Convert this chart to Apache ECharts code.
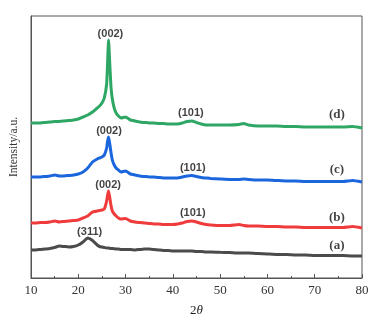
<!DOCTYPE html>
<html>
<head>
<meta charset="utf-8">
<script src="https://cdn.jsdelivr.net/npm/echarts@6/dist/echarts.min.js"></script>
<style>
  html, body { margin: 0; padding: 0; background: #fff; }
  #chart { width: 378px; height: 322px; }
</style>
</head>
<body>
<div id="chart"></div>
<script>
// XRD patterns, 2θ in degrees; intensities in arbitrary units (curves stacked with offsets)
const twoTheta = [10,11,12,13,14,15,16,17,18,19,20,21,22,23,24,24.5,25,25.5,26,26.2,26.4,26.6,26.9,27.2,27.6,28,28.5,29,30,31,32,33,34,35,36,37,38,39,40,41,42,43,44,45,46,47,48,50,52,54,55,56,58,60,62,64,66,68,70,72,74,76,78,80];

const sampleA = [28,28,28.5,29,29.5,30.5,32,31.5,31,31.5,33,36,40,37.5,33,31.5,31,30.5,30,30,30,29.8,29.5,29.5,29.3,29,29,28.5,28.5,28.5,28,28.5,29,29,28.5,28,27.5,27.5,27,27,27,27,27,26.5,26.5,26,26,25.7,25.5,25,25,25,24.5,24,23.5,23.5,23,23,22.5,22.5,22.5,22.5,22,22];

const sampleB = [55,55,55.5,55.5,56,57,56,56.5,57,57.5,58,60,62,66,67,67.5,68,69,77,83,87,82,73,67,64,62,60,59,59.5,57,56,55.5,55,54.5,54,54,53.5,53.5,53.5,54,55,56.5,57,56,54.5,53.5,53,52.5,52.5,53.5,52.5,52,52,51.5,51.5,51,51,50.5,50.5,50.5,50.5,50.5,51.5,50];

const sampleC = [101,101,101,101.5,102,103,102,102,102.5,103,104,106,110,116,119,120,121,123,130,137,141,136,126,118,113,110,108,106,107,104,103,102,101.5,101,101,100.5,100,100,100,100,101,102,102.5,101.5,100.5,100,99.5,99,98.5,98.5,99,98.5,98,98,97.5,97,97,96.5,96.5,96.5,96.5,96.5,97.5,96];

const sampleD = [155,155,155,155.5,156,156.5,156.5,157,157.5,158,159,161,163,166,170,172,175,180,194,216,238,220,192,179,170,165,162,160,161,158,157,156,155.5,155,155,154.5,154.5,154,154,154,155,156.5,157,155.5,154,153,153,153,153,153.5,154.5,153,152,152,152,151.5,151.5,151,151,151,151,151,151.5,150];

const seriesNames = ['(a)', '(b)', '(c)', '(d)'];
const seriesColors = ['#4b4b4b', '#ef3b3b', '#1c66dd', '#2ea765'];
const seriesValues = [sampleA, sampleB, sampleC, sampleD];

// Reflection labels: [2θ, intensity, text]
const peakLabels = [
  [26.8, 244, '(002)'],
  [26.5, 147, '(002)'],
  [26.3, 93, '(002)'],
  [22.4, 46, '(311)'],
  [43.8, 165, '(101)'],
  [44.2, 110, '(101)'],
  [44.2, 65, '(101)']
];

// Sample tags at the right end of each curve: [2θ, intensity, text]
const sampleTags = [
  [74.7, 163, '(d)'],
  [74.7, 108, '(c)'],
  [74.7, 60, '(b)'],
  [74.7, 32, '(a)']
];

const xTicks = [10, 20, 30, 40, 50, 60, 70, 80];

const chart = echarts.init(document.getElementById('chart'), null, { renderer: 'canvas' });

const lineSeries = seriesValues.map((vals, i) => ({
  name: seriesNames[i],
  type: 'line',
  data: twoTheta.map((x, k) => [x, vals[k]]),
  showSymbol: false,
  smooth: 0.15,
  lineStyle: { color: seriesColors[i], width: 3 },
  itemStyle: { color: seriesColors[i] },
  silent: true,
  z: 2
}));

chart.setOption({
  animation: false,
  backgroundColor: '#ffffff',
  grid: {
    left: 29, right: 16, top: 16, bottom: 44,
    show: true, borderColor: '#555', borderWidth: 1, backgroundColor: 'transparent'
  },
  xAxis: {
    type: 'value',
    min: xTicks[0],
    max: xTicks[xTicks.length - 1],
    interval: 10,
    name: '{n|2}{t|θ}',
    nameLocation: 'middle',
    nameGap: 26,
    nameTextStyle: {
      rich: {
        n: { fontFamily: 'Liberation Serif', fontSize: 13, color: '#222' },
        t: { fontFamily: 'Liberation Serif', fontSize: 13, fontStyle: 'italic', color: '#222' }
      }
    },
    axisLine: { show: true, lineStyle: { color: '#555', width: 1 } },
    axisTick: { show: true, inside: true, length: 4, lineStyle: { color: '#555' } },
    minorTick: { show: true, splitNumber: 2, length: 2, lineStyle: { color: '#555' } },
    splitLine: { show: false },
    axisLabel: {
      fontFamily: 'Liberation Serif', fontSize: 13, color: '#333', margin: 6
    }
  },
  yAxis: {
    type: 'value',
    min: 0,
    max: 262,
    name: 'Intensity/a.u.',
    nameLocation: 'middle',
    nameRotate: 90,
    nameGap: 11,
    nameTextStyle: { fontFamily: 'Liberation Serif', fontSize: 11.5, color: '#333' },
    axisLine: { show: true, lineStyle: { color: '#555', width: 1 } },
    axisTick: { show: false },
    axisLabel: { show: false },
    splitLine: { show: false }
  },
  series: lineSeries.concat([
    {
      type: 'scatter',
      data: peakLabels,
      symbolSize: 0,
      silent: true,
      z: 5,
      label: {
        show: true,
        position: 'inside',
        formatter: p => p.data[2],
        fontFamily: 'Liberation Sans',
        fontWeight: 'bold',
        fontSize: 11,
        color: '#111'
      }
    },
    {
      type: 'scatter',
      data: sampleTags,
      symbolSize: 0,
      silent: true,
      z: 5,
      label: {
        show: true,
        position: 'inside',
        formatter: p => p.data[2],
        fontFamily: 'Liberation Serif',
        fontWeight: 'bold',
        fontSize: 13,
        color: '#111'
      }
    }
  ])
});
</script>
</body>
</html>
